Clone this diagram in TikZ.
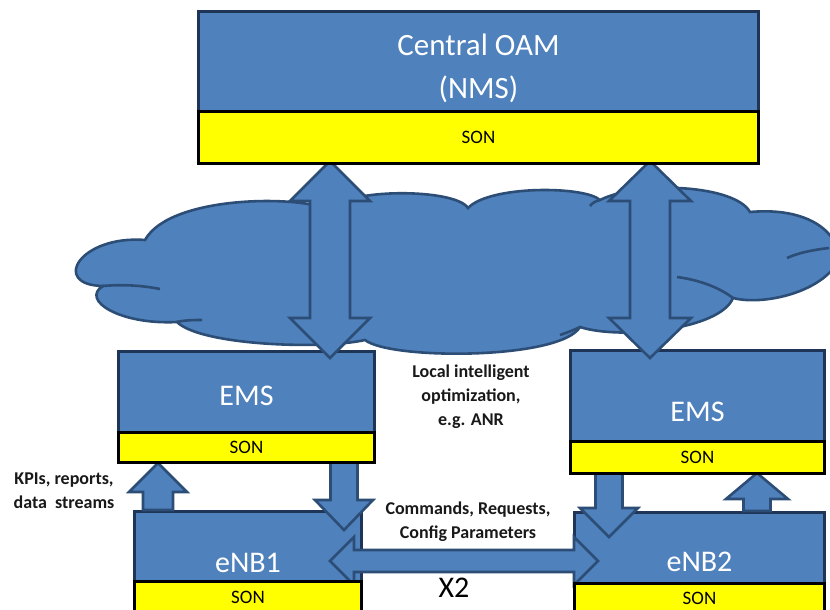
\documentclass[tikz,border=0pt]{standalone}
\usepackage{fontspec}
\setmainfont{Carlito}
\usetikzlibrary{calc}
\definecolor{fillblue}{HTML}{4F81BD}
\definecolor{edgeblue}{HTML}{2C4D75}
\definecolor{boxedge}{HTML}{1F3558}
\definecolor{sonyellow}{HTML}{FFFF00}
\tikzset{
 blk/.style={fill=fillblue, draw=edgeblue, line width=2.6pt, line join=miter},
 cloudstyle/.style={fill=fillblue, draw=edgeblue, line width=2.6pt},
 cloudline/.style={draw=edgeblue, line width=2.6pt},
 bluebox/.style={rectangle, fill=fillblue, draw=boxedge, line width=3pt, anchor=north west, inner sep=0pt, text=white, align=center},
 sonbar/.style={rectangle, fill=sonyellow, draw=black, line width=3pt, anchor=north west, inner sep=0pt, font=\fontsize{19}{22}\selectfont},
 lbl/.style={font=\bfseries\fontsize{18}{24}\selectfont, align=center, text=black!90},
}
% vertical single block arrow: #1 tail, #2 tip, #3 shaft half width, #4 head half width, #5 head length (signed, toward tail)
\newcommand\vsarrow[5]{%
 \draw[blk] ($(#1)+(-#3,0)$) -- ($(#2)+(-#3,#5)$) -- ($(#2)+(-#4,#5)$) -- (#2) -- ($(#2)+(#4,#5)$) -- ($(#2)+(#3,#5)$) -- ($(#1)+(#3,0)$) -- cycle;}
% vertical double block arrow: #1 top tip, #2 bottom tip
\newcommand\vdarrow[5]{%
 \draw[blk] (#1) -- ($(#1)+(#4,#5)$) -- ($(#1)+(#3,#5)$) -- ($(#2)+(#3,-#5)$) -- ($(#2)+(#4,-#5)$) -- (#2) -- ($(#2)+(-#4,-#5)$) -- ($(#2)+(-#3,-#5)$) -- ($(#1)+(-#3,#5)$) -- ($(#1)+(-#4,#5)$) -- cycle;}
% horizontal double block arrow: #1 left tip, #2 right tip
\newcommand\hdarrow[5]{%
 \draw[blk] (#1) -- ($(#1)+(#5,-#4)$) -- ($(#1)+(#5,-#3)$) -- ($(#2)+(-#5,-#3)$) -- ($(#2)+(-#5,-#4)$) -- (#2) -- ($(#2)+(-#5,#4)$) -- ($(#2)+(-#5,#3)$) -- ($(#1)+(#5,#3)$) -- ($(#1)+(#5,#4)$) -- cycle;}
\begin{document}
\begin{tikzpicture}[x=1pt,y=-1pt]
\useasboundingbox[fill=white] (0,0) rectangle (830,610);

% cloud
\draw[cloudstyle] (145,240) .. controls (80,235) and (50,285) .. (103,286)
 .. controls (80,300) and (120,325) .. (177,322)
 .. controls (200,345) and (320,350) .. (365,340)
 .. controls (390,360) and (560,360) .. (580,327)
 .. controls (620,340) and (720,330) .. (733,298)
 .. controls (760,305) and (810,295) .. (832,270)
 .. controls (850,255) and (830,205) .. (750,212)
 .. controls (735,185) and (640,180) .. (600,200)
 .. controls (585,186) and (490,185) .. (468,208)
 .. controls (455,188) and (345,188) .. (330,210)
 .. controls (300,195) and (170,195) .. (145,240) -- cycle;
\draw[cloudline] (103,286) .. controls (125,284) and (145,286) .. (160,289);
\draw[cloudline] (177,322) .. controls (185,320) and (195,320) .. (202,320);
\draw[cloudline] (733,298) .. controls (720,288) and (700,280) .. (677,277);
\draw[cloudline] (829,248) .. controls (812,250) and (798,253) .. (787,258);
\draw[cloudline] (600,200) .. controls (596,201) and (592,203) .. (590,206);
\draw[cloudline] (580,327) .. controls (574,330) and (566,333) .. (560,335);

% boxes
\node[bluebox, minimum width=560, minimum height=113, font=\fontsize{31}{43}\selectfont] (oam) at (197,10) {Central OAM\\(NMS)};
\node[bluebox, minimum width=256, minimum height=88, font=\fontsize{30}{36}\selectfont] (ems1) at (117,350) {EMS};
\node[bluebox, minimum width=254, minimum height=123, font=\fontsize{30}{36}\selectfont] (ems2) at (569,349) {EMS};
\node[bluebox, minimum width=227, minimum height=102, font=\fontsize{30}{36}\selectfont] (enb1) at (133,510) {eNB1};
\node[bluebox, minimum width=250, minimum height=99, font=\fontsize{30}{36}\selectfont] (enb2) at (573,511) {eNB2};

% arrow end points
\coordinate (l1t) at (330,161);
\coordinate (l1b) at (330,358);
\coordinate (r1t) at (650,161);
\coordinate (r1b) at (650,358);
\coordinate (kpitail) at (158,510);
\coordinate (kpitip) at (158,463);
\coordinate (d1tail) at (344,461);
\coordinate (d1tip) at (344,530);
\coordinate (d2tail) at (609,472);
\coordinate (d2tip) at (609,537);
\coordinate (u2tail) at (757,511);
\coordinate (u2tip) at (757,473);
\coordinate (x2l) at (330,561);
\coordinate (x2r) at (598,561);

\vdarrow{l1t}{l1b}{20}{40}{40}
\vdarrow{r1t}{r1b}{20}{41}{40}
\vsarrow{kpitail}{kpitip}{15}{29}{29}
\vsarrow{d1tail}{d1tip}{13.5}{29}{-30}
\vsarrow{d2tail}{d2tip}{13.5}{29}{-29}
\vsarrow{u2tail}{u2tip}{13.5}{31}{26}
\hdarrow{x2l}{x2r}{11}{24}{24}

% SON bars
\node[sonbar, minimum width=560, minimum height=52] (oamson) at (197,110) {SON};
\node[sonbar, minimum width=256, minimum height=30] (ems1son) at (117,431) {SON};
\node[sonbar, minimum width=254, minimum height=32] (ems2son) at (569,440) {SON};
\node[sonbar, minimum width=227, minimum height=32] (enb1son) at (133,580) {SON};
\node[sonbar, minimum width=250, minimum height=30] (enb2son) at (573,582) {SON};

% labels
\node[lbl] (local) at (471,397) {Local intelligent\\optimization,\\e.g. ANR};
\node[lbl] (cmds) at (468,522) {Commands, Requests,\\Config Parameters};
\node[lbl] (kpi) at (64,491) {KPIs, reports,\\data\ \ streams};
\node[font=\fontsize{30}{36}\selectfont] (x2) at (454,588) {X2};
\end{tikzpicture}
\end{document}
